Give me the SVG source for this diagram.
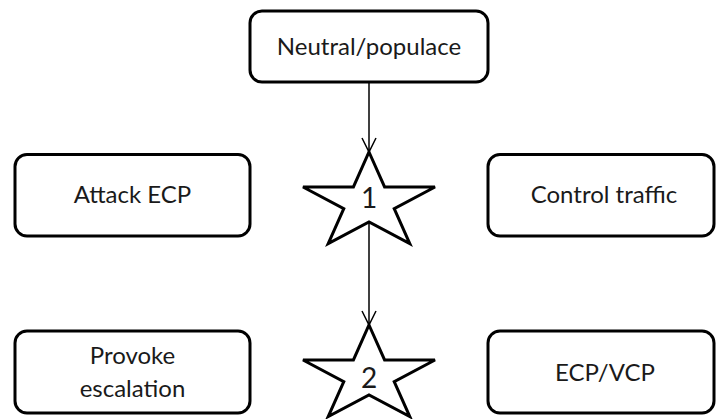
<svg xmlns="http://www.w3.org/2000/svg" width="716" height="419" viewBox="0 0 716 419">
  <style>
    .box { fill: #ffffff; stroke: #000000; stroke-width: 3; }
    .star { fill: #ffffff; stroke: #000000; stroke-width: 3; stroke-linejoin: miter; }
    .label { font-family: Lato, "Liberation Sans", sans-serif; font-size: 24px; fill: #1a1a1a; text-anchor: middle; }
    .num { font-family: Lato, "Liberation Sans", sans-serif; font-size: 28px; fill: #1a1a1a; text-anchor: middle; }
    .edge { stroke: #000000; stroke-width: 1.5; fill: none; }
  </style>
  <defs>
    <marker id="open-arrow" markerUnits="userSpaceOnUse" markerWidth="20" markerHeight="20" refX="0" refY="0" orient="auto" overflow="visible">
      <path d="M -14,-7 L 0,0 L -14,7" fill="none" stroke="#000000" stroke-width="1.5"/>
    </marker>
    <!-- five-point star centred on the origin -->
    <path id="star5" d="M 0,-50.6 L 15.58,-15.64 L 66,-15.64 L 25.21,5.97 L 40.79,40.94 L 0,19.33 L -40.79,40.94 L -25.21,5.97 L -66,-15.64 L -15.58,-15.64 Z"/>
  </defs>

  <g id="connectors">
    <line class="edge" x1="369" y1="82" x2="369" y2="152" marker-end="url(#open-arrow)"/>
    <line class="edge" x1="369" y1="222" x2="369" y2="325" marker-end="url(#open-arrow)"/>
  </g>

  <g id="neutral-populace">
    <rect class="box" x="250" y="11" width="238" height="71" rx="12" ry="12"/>
    <text class="label" x="369" y="55">Neutral/populace</text>
  </g>

  <g id="star-1">
    <use href="#star5" class="star" transform="translate(369,202.6)"/>
    <text class="num" x="369" y="208">1</text>
  </g>

  <g id="star-2">
    <use href="#star5" class="star" transform="translate(369,375.6)"/>
    <text class="num" x="369" y="388">2</text>
  </g>

  <g id="attack-ecp">
    <rect class="box" x="15" y="154.5" width="235" height="81.5" rx="12" ry="12"/>
    <text class="label" x="132.5" y="203">Attack ECP</text>
  </g>

  <g id="control-traffic">
    <rect class="box" x="488" y="154.5" width="226" height="81.5" rx="12" ry="12"/>
    <text class="label" x="604" y="203">Control traffic</text>
  </g>

  <g id="provoke-escalation">
    <rect class="box" x="15" y="331" width="235" height="82" rx="12" ry="12"/>
    <text class="label" x="132.5" y="364">Provoke</text>
    <text class="label" x="132.5" y="397">escalation</text>
  </g>

  <g id="ecp-vcp">
    <rect class="box" x="488" y="331" width="226" height="82" rx="12" ry="12"/>
    <text class="label" x="605" y="381">ECP/VCP</text>
  </g>
</svg>
